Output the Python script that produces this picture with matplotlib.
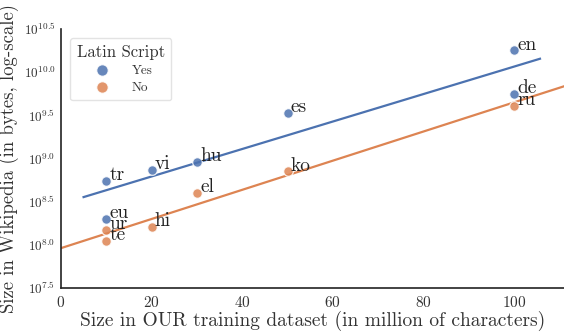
import numpy as np
import matplotlib
matplotlib.use("Agg")
import matplotlib.pyplot as plt
from matplotlib.ticker import FuncFormatter

plt.rcParams['font.family'] = ['cmr10', 'DejaVu Serif']
plt.rcParams['mathtext.fontset'] = 'cm'
plt.rcParams['axes.unicode_minus'] = False
plt.rcParams['axes.formatter.use_mathtext'] = True

# Latin script languages
latin_langs = ['en', 'de', 'es', 'hu', 'vi', 'tr', 'eu']
latin_x = [100, 100, 50, 30, 20, 10, 10]
latin_y = [10.25, 9.75, 9.53, 8.96, 8.87, 8.74, 8.30]   # log10(bytes)

# non-Latin script languages
other_langs = ['ru', 'ko', 'el', 'hi', 'ur', 'te']
other_x = [100, 50, 30, 20, 10, 10]
other_y = [9.61, 8.85, 8.60, 8.21, 8.17, 8.04]

blue = '#4C72B0'
orange = '#DD8452'

fig = plt.figure(figsize=(5.64, 3.36), dpi=100)
ax = fig.add_axes([0.108, 0.143, 0.892, 0.771])

# linear fits
pb = np.polyfit(latin_x, latin_y, 1)
po = np.polyfit(other_x, other_y, 1)
xb = np.array([5, 105.7])
xo = np.array([0, 111])
ax.plot(xb, np.polyval(pb, xb), color=blue, lw=1.6, zorder=2)
ax.plot(xo, np.polyval(po, xo), color=orange, lw=1.6, zorder=2)

ax.scatter(latin_x, latin_y, s=48, color=blue, alpha=0.85,
           edgecolor='white', linewidth=0.9, zorder=3, label='Yes')
ax.scatter(other_x, other_y, s=48, color=orange, alpha=0.85,
           edgecolor='white', linewidth=0.9, zorder=3, label='No')

for lang, x, y in zip(latin_langs + other_langs, latin_x + other_x, latin_y + other_y):
    ax.text(x + 0.7, y + 0.01, lang, fontsize=14, va='baseline', ha='left',
            color='#222222', zorder=4)

ax.set_xlim(0, 111)
ax.set_ylim(7.5, 10.5)
ax.set_xticks([0, 20, 40, 60, 80, 100])
ax.set_yticks(np.arange(7.5, 10.51, 0.5))
ax.yaxis.set_major_formatter(FuncFormatter(lambda v, p: r'$10^{%.1f}$' % v))
ax.tick_params(axis='x', labelsize=11, length=0, pad=5, colors='#333333')
ax.tick_params(axis='y', labelsize=9.5, length=0, pad=4, colors='#333333')

for s in ['top', 'right']:
    ax.spines[s].set_visible(False)
for s in ['left', 'bottom']:
    ax.spines[s].set_color('#222222')
    ax.spines[s].set_linewidth(1.2)

ax.set_xlabel('Size in OUR training dataset (in million of characters)', fontsize=14, color='#333333', labelpad=1)
ax.set_ylabel('Size in Wikipedia (in bytes, log-scale)', fontsize=13.5, color='#333333', labelpad=3)

leg = ax.legend(title='Latin Script', loc='upper left', bbox_to_anchor=(0.005, 0.99),
                fontsize=9.5, title_fontsize=12, frameon=True, handletextpad=1.2,
                borderpad=0.5, labelspacing=0.35, markerscale=1.2)
leg.get_frame().set_edgecolor('#dddddd')
for t in leg.get_texts():
    t.set_color('#333333')
leg.get_title().set_color('#333333')

fig.savefig('out.png', dpi=100)
